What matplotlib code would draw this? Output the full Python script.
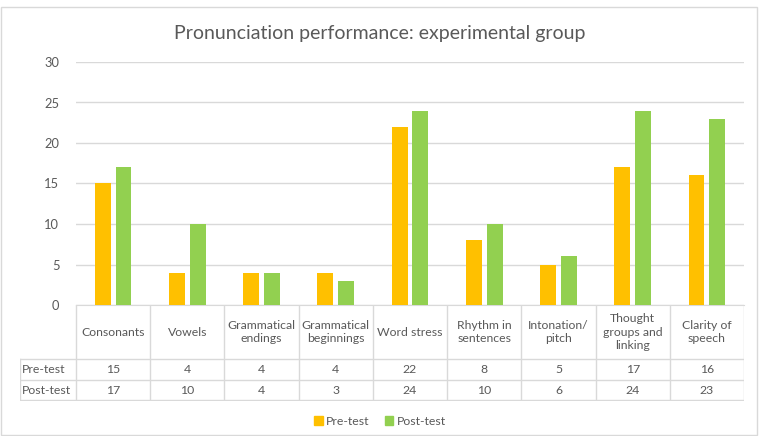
import matplotlib.pyplot as plt
from matplotlib.patches import Rectangle, Patch
import numpy as np

categories = ["Consonants", "Vowels", "Grammatical\nendings", "Grammatical\nbeginnings",
              "Word stress", "Rhythm in\nsentences", "Intonation/\npitch",
              "Thought\ngroups and\nlinking", "Clarity of\nspeech"]
pre_test = [15, 4, 4, 4, 22, 8, 5, 17, 16]
post_test = [17, 10, 4, 3, 24, 10, 6, 24, 23]
series_names = ["Pre-test", "Post-test"]
colors = ["#FFC000", "#92D050"]

plt.rcParams['font.family'] = ['Lato', 'DejaVu Sans']
text_col = "#595959"
grid_col = "#D9D9D9"

W, H = 760, 436
fig = plt.figure(figsize=(W / 100, H / 100), dpi=100)

def px_axes(x0, y0, x1, y1):
    # pixel box (top-left origin) -> figure axes
    return fig.add_axes([x0 / W, 1 - y1 / H, (x1 - x0) / W, (y1 - y0) / H])

# chart border
fig.patches.append(Rectangle((1 / W, 1 / H), 756 / W, (H - 8) / H, transform=fig.transFigure,
                             fill=False, edgecolor=grid_col, lw=1))

left, right, top, bottom = 76, 744, 62, 305
ax = px_axes(left, top, right, bottom)
n = len(categories)
x = np.arange(n)
bw = 0.215
ax.bar(x - 0.14, pre_test, bw, color=colors[0], zorder=3)
ax.bar(x + 0.14, post_test, bw, color=colors[1], zorder=3)
ax.set_xlim(-0.5, n - 0.5)
ax.set_ylim(0, 30)
ax.set_yticks(range(0, 31, 5))
ax.yaxis.grid(True, color=grid_col, lw=1)
ax.set_axisbelow(True)
ax.set_xticks([])
for s in ["top", "right", "left"]:
    ax.spines[s].set_visible(False)
ax.spines["bottom"].set_color(grid_col)
ax.tick_params(axis="y", length=0, pad=12, labelsize=9.3, labelcolor=text_col)

fig.text(0.5, 1 - 33 / H, "Pronunciation performance: experimental group",
         ha="center", va="center", fontsize=14, color=text_col)

# data table
t_left, t_bottom = 20, 401
lab_w = (left - t_left) / ((right - left) / n)
axt = px_axes(t_left, bottom, right, t_bottom)
axt.set_xlim(-0.5 - lab_w, n - 0.5)
axt.set_ylim(t_bottom, bottom)
axt.axis("off")
r1, r2 = 359, 380
lk = dict(color=grid_col, lw=1)
axt.plot([-0.5, -0.5], [bottom, t_bottom], **lk)
for i in range(n):
    axt.plot([i + 0.5, i + 0.5], [bottom, t_bottom], **lk)
axt.plot([-0.5 - lab_w, -0.5 - lab_w], [r1, t_bottom], **lk)
for yy in [r1, r2, t_bottom - 0.5]:
    axt.plot([-0.5 - lab_w, n - 0.5], [yy, yy], **lk)

fs = 8.8
for i, c in enumerate(categories):
    axt.text(i, (bottom + r1) / 2, c, ha="center", va="center", fontsize=fs,
             color=text_col, linespacing=1.25)
    axt.text(i, (r1 + r2) / 2, str(pre_test[i]), ha="center", va="center", fontsize=fs, color=text_col)
    axt.text(i, (r2 + t_bottom) / 2, str(post_test[i]), ha="center", va="center", fontsize=fs, color=text_col)
axt.text(-0.5 - lab_w + 0.03, (r1 + r2) / 2, series_names[0], ha="left", va="center", fontsize=fs, color=text_col)
axt.text(-0.5 - lab_w + 0.03, (r2 + t_bottom) / 2, series_names[1], ha="left", va="center", fontsize=fs, color=text_col)

handles = [Patch(color=colors[0], label=series_names[0]), Patch(color=colors[1], label=series_names[1])]
fig.legend(handles=handles, loc="center", bbox_to_anchor=(380 / W, 1 - 421 / H), ncol=2,
           frameon=False, fontsize=fs, labelcolor=text_col, handlelength=0.7, handleheight=0.7,
           handletextpad=0.3, columnspacing=1.2)

fig.savefig("out.png", dpi=100)
